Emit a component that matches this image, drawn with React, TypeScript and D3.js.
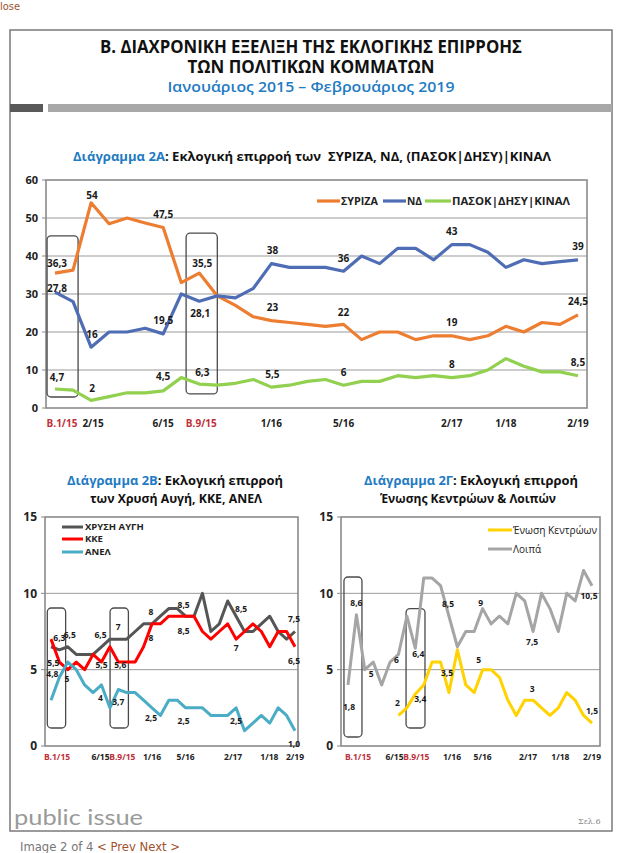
import React from "react";
import * as d3 from "d3";

// ---------- data ----------
const xTickLabels = ["Β.1/15", "", "2/15", "", "", "", "6/15", "", "Β.9/15", "", "", "", "1/16", "", "", "", "5/16", "", "", "", "", "", "2/17", "", "", "1/18", "", "", "", "2/19"];
const xTickLabelsSmall = ["Β.1/15", "", "", "", "", "", "6/15", "", "Β.9/15", "", "", "", "1/16", "", "", "", "5/16", "", "", "", "", "", "2/17", "", "", "1/18", "", "", "", "2/19"];
const electionTicks = ["Β.1/15", "Β.9/15"];

const syriza = [35.5, 36.3, 54, 48.5, 50, 48.7, 47.5, 33, 35.5, 29.5, 27, 24, 23, 22.5, 22, 21.5, 22, 18, 20, 20, 18, 19, 19, 18, 19, 21.5, 20, 22.5, 22, 24.5];
const nd = [30.5, 28, 16, 20, 20, 21, 19.5, 30, 28.1, 29.5, 29, 31.5, 38, 37, 37, 37, 36, 40, 38, 42, 42, 39, 43, 43, 41, 37, 39, 38, 38.5, 39];
const pasok = [5, 4.7, 2, 3, 4, 4, 4.5, 8, 6.3, 6, 6.5, 7.5, 5.5, 6, 7, 7.5, 6, 7, 7, 8.5, 8, 8.5, 8, 8.5, 10, 13, 11, 9.5, 9.5, 8.5];

const chrysiAvgi = [6.5, 6.3, 6.5, 6, 6, 6, 6.5, 7, 7, 7, 7.5, 8, 8, 8.5, 9, 9, 8.5, 8.5, 10, 7.5, 8, 9.5, 8.5, 7.5, 7.5, 8, 8.5, 7.5, 7, 7.5];
const kke = [7, 5.5, 5, 5.5, 5, 6, 5.5, 6.5, 5.5, 5.5, 5.5, 6.5, 8, 8, 8.5, 8.5, 8.5, 8.5, 7.5, 7, 7.5, 8, 7, 7.5, 8, 7.5, 6.5, 7.5, 7.5, 6.5];
const anel = [3, 4.5, 5.5, 5, 4, 3.5, 4, 2.5, 3.7, 3.5, 3.5, 3, 2.5, 2, 3, 3, 2.5, 2.5, 2.5, 2, 2, 2, 2.5, 1, 1.5, 2, 1.5, 2.5, 2, 1];

const enosiKentroon: (number | null)[] = [null, null, null, null, null, null, 2, 2.5, 3.4, 4, 5.5, 5.5, 3.5, 6.3, 4, 3.5, 5, 5, 4.5, 3, 2, 3, 3, 2.5, 2, 2.5, 3.5, 3, 2, 1.5];
const loipa = [4, 8.6, 5, 5.5, 4, 5.5, 6, 8.5, 6.4, 11, 11, 10.5, 8.5, 6.5, 7.5, 7.5, 9, 8, 8.5, 8, 10, 9.5, 7.5, 10, 9, 7.5, 10, 9.5, 11.5, 10.5];

const ticks2A = [0, 10, 20, 30, 40, 50, 60];
const ticksSmall = [0, 5, 10, 15];

// data labels: [series, index, text]
const labels2A: [string, number, string][] = [
  ["syriza", 0, "36,3"], ["syriza", 2, "54"], ["syriza", 6, "47,5"], ["syriza", 8, "35,5"], ["syriza", 12, "23"], ["syriza", 16, "22"], ["syriza", 22, "19"], ["syriza", 29, "24,5"],
  ["nd", 0, "27,8"], ["nd", 2, "16"], ["nd", 6, "19,5"], ["nd", 8, "28,1"], ["nd", 12, "38"], ["nd", 16, "36"], ["nd", 22, "43"], ["nd", 29, "39"],
  ["pasok", 0, "4,7"], ["pasok", 2, "2"], ["pasok", 6, "4,5"], ["pasok", 8, "6,3"], ["pasok", 12, "5,5"], ["pasok", 16, "6"], ["pasok", 22, "8"], ["pasok", 29, "8,5"],
];
const labels2B: [string, number, string][] = [
  ["xa", 1, "6,3"], ["xa", 2, "6,5"], ["xa", 6, "6,5"], ["xa", 8, "7"], ["xa", 12, "8"], ["xa", 16, "8,5"], ["xa", 22, "8,5"], ["xa", 29, "7,5"],
  ["kke", 1, "5,5"], ["kke", 2, "5"], ["kke", 6, "5,5"], ["kke", 8, "5,6"], ["kke", 12, "8"], ["kke", 16, "8,5"], ["kke", 22, "7"], ["kke", 29, "6,5"],
  ["anel", 1, "4,8"], ["anel", 6, "4"], ["anel", 8, "3,7"], ["anel", 12, "2,5"], ["anel", 16, "2,5"], ["anel", 22, "2,5"], ["anel", 29, "1,0"],
];
const labels2G: [string, number, string][] = [
  ["loipa", 1, "8,6"], ["loipa", 3, "5"], ["loipa", 6, "6"], ["loipa", 8, "6,4"], ["loipa", 12, "8,5"], ["loipa", 16, "9"], ["loipa", 22, "7,5"], ["loipa", 29, "10,5"],
  ["ek", 0, "1,8"], ["ek", 6, "2"], ["ek", 8, "3,4"], ["ek", 12, "3,5"], ["ek", 16, "5"], ["ek", 22, "3"], ["ek", 29, "1,5"],
];

// ---------- styling (offsets of labels, in px) ----------
const offsets2A: [number, number][] = [
  [2, -10], [1, -7], [0, -13], [3, -10], [1, -13], [0, -12], [0, -13], [0, -13],
  [2, -4], [1, -13], [0, -13], [1, 12], [1, -13], [0, -13], [0, -13], [0, -13],
  [2, -12], [1, -12], [0, -14], [3, -12], [1, -13], [0, -13], [0, -13], [0, -13],
];
const offsets2B: [number, number][] = [
  [0, -12], [2, -12], [-1, -12], [0, -12], [-1, -12], [-2, -11], [5, -7], [-1, -12],
  [-6, 1], [-1, 9], [0, 3], [2, 3], [-1, 14], [-2, 15], [0, 9], [-1, 14],
  [-7, -3], [-1, 13], [0, 13], [-1, 10], [-2, 13], [0, 13], [-1, 13],
];
const offsets2G: [number, number][] = [
  [0, -12], [-2, 12], [-2, 6], [3, 6], [-1, -12], [-2, -6], [-1, 11], [-3, 10],
  [1, -11], [-1, -12], [5, 5], [-2, -20], [-4, -10], [-1, -11], [0, -12],
];

const FONT = "'Open Sans', 'DejaVu Sans', sans-serif";
const BLUE_T = "#1f7bc2";
const RED_T = "#c0303a";

type Series = { key: string; values: (number | null)[]; color: string; width: number };

function PlotFrame(props: {
  x0: number; x1: number; y0: number; y1: number;
  yScale: d3.ScaleLinear<number, number>; ticks: number[]; grid: number[]; tickSize: number;
}) {
  const { x0, x1, y0, y1, yScale, ticks, grid, tickSize } = props;
  return (
    <g>
      {grid.map((t) => (
        <line key={"g" + t} x1={x0} x2={x1} y1={yScale(t)} y2={yScale(t)} stroke="#9a9a9a" strokeWidth={1} />
      ))}
      <rect x={x0} y={y1} width={x1 - x0} height={y0 - y1} fill="none" stroke="#8a8a8a" strokeWidth={1.6} />
      {ticks.map((t) => (
        <g key={"t" + t}>
          <line x1={x0 - 4} x2={x0} y1={yScale(t)} y2={yScale(t)} stroke="#8a8a8a" strokeWidth={1} />
          <text x={x0 - 8} y={yScale(t)} dy="0.35em" textAnchor="end" fontSize={tickSize} fontWeight="bold" fill="#222">
            {t}
          </text>
        </g>
      ))}
    </g>
  );
}

function Lines(props: { series: Series[]; x: (i: number) => number; y: d3.ScaleLinear<number, number> }) {
  const { series, x, y } = props;
  return (
    <g>
      {series.map((s) => {
        const gen = d3
          .line<number | null>()
          .defined((d) => d != null)
          .x((_, i) => x(i))
          .y((d) => y(d as number))
          .curve(d3.curveLinear);
        return (
          <path key={s.key} d={gen(s.values) || ""} fill="none" stroke={s.color} strokeWidth={s.width} strokeLinejoin="round" strokeLinecap="butt" />
        );
      })}
    </g>
  );
}

function DataLabels(props: {
  labels: [string, number, string][]; offsets: [number, number][]; series: Series[];
  x: (i: number) => number; y: d3.ScaleLinear<number, number>; size: number;
}) {
  const { labels, offsets, series, x, y, size } = props;
  const byKey: Record<string, Series> = {};
  series.forEach((s) => (byKey[s.key] = s));
  return (
    <g>
      {labels.map(([k, i, t], n) => {
        const v = byKey[k].values[i];
        const val = v == null ? parseFloat(t.replace(",", ".")) : v;
        const [dx, dy] = offsets[n];
        return (
          <text key={n} x={x(i) + dx} y={y(val) + dy} dy="0.35em" textAnchor="middle" fontSize={size} fontWeight="bold" fill="#1a1a1a">
            {t}
          </text>
        );
      })}
    </g>
  );
}

function XLabels(props: { labels: string[]; x: (i: number) => number; y: number; size: number; shift: number[] }) {
  const { labels, x, y, size, shift } = props;
  return (
    <g>
      {labels.map((t, i) =>
        t ? (
          <text key={i} x={x(i) + (shift[i] || 0)} y={y} textAnchor="middle" fontSize={size} fontWeight="bold" fill={electionTicks.includes(t) ? RED_T : "#222"}>
            {t}
          </text>
        ) : null
      )}
    </g>
  );
}

function Box(props: { x: (i: number) => number; y: d3.ScaleLinear<number, number>; i0: number; i1: number; v0: number; v1: number }) {
  const { x, y, i0, i1, v0, v1 } = props;
  return (
    <rect x={x(i0)} y={y(v1)} width={x(i1) - x(i0)} height={y(v0) - y(v1)} rx={4} fill="none" stroke="#4a4a4a" strokeWidth={1.3} />
  );
}

export default function App() {
  const idx = d3.range(xTickLabels.length);
  const n = idx.length - 1;

  // Chart 2A
  const xA = d3.scaleLinear().domain([0, n]).range([55, 578]);
  const yA = d3.scaleLinear().domain([0, 60]).range([408, 180]);
  const seriesA: Series[] = [
    { key: "syriza", values: syriza, color: "#ed7d31", width: 3.2 },
    { key: "nd", values: nd, color: "#4f6db4", width: 3.2 },
    { key: "pasok", values: pasok, color: "#92d050", width: 3.2 },
  ];

  // Chart 2B
  const xB = d3.scaleLinear().domain([0, n]).range([51, 295]);
  const yB = d3.scaleLinear().domain([0, 15]).range([746, 517]);
  const seriesB: Series[] = [
    { key: "xa", values: chrysiAvgi, color: "#555555", width: 3 },
    { key: "kke", values: kke, color: "#ff0000", width: 3 },
    { key: "anel", values: anel, color: "#4bacc6", width: 3 },
  ];

  // Chart 2Γ
  const xG = d3.scaleLinear().domain([0, n]).range([348, 592]);
  const yG = d3.scaleLinear().domain([0, 15]).range([746, 517]);
  const seriesG: Series[] = [
    { key: "ek", values: enosiKentroon, color: "#ffd200", width: 3 },
    { key: "loipa", values: loipa, color: "#a5a5a5", width: 3 },
  ];

  return (
    <svg width={627} height={853} viewBox="0 0 627 853" style={{ position: "absolute", left: 0, top: 0, background: "#fff" }} fontFamily={FONT}>
      <rect x={0} y={0} width={627} height={853} fill="#fff" />
      <text x={0} y={10} fontSize={11} fill="#a0522d" fontFamily="'DejaVu Sans Condensed', sans-serif">lose</text>

      {/* page frame */}
      <rect x={10} y={30} width={602} height={801} fill="#fff" stroke="#7a7a7a" strokeWidth={1.5} />
      <rect x={10} y={104} width={33} height={8} fill="#595959" />
      <rect x={48} y={104} width={564} height={8} fill="#a8a8a8" />

      {/* headings */}
      <text x={311} y={53} textAnchor="middle" fontSize={17} fontWeight="bold" fill="#111" textLength={422} lengthAdjust="spacingAndGlyphs">
        Β. ΔΙΑΧΡΟΝΙΚΗ ΕΞΕΛΙΞΗ ΤΗΣ ΕΚΛΟΓΙΚΗΣ ΕΠΙΡΡΟΗΣ
      </text>
      <text x={311} y={73} textAnchor="middle" fontSize={17} fontWeight="bold" fill="#111" textLength={247} lengthAdjust="spacingAndGlyphs">
        ΤΩΝ ΠΟΛΙΤΙΚΩΝ ΚΟΜΜΑΤΩΝ
      </text>
      <text x={311} y={92} textAnchor="middle" fontSize={15} fontWeight="600" fill={BLUE_T} textLength={287} lengthAdjust="spacingAndGlyphs">
        Ιανουάριος 2015 – Φεβρουάριος 2019
      </text>

      {/* Chart 2A */}
      <text x={73} y={161} fontSize={12.5} fontWeight="bold" fill="#111" textLength={478} lengthAdjust="spacingAndGlyphs" style={{ whiteSpace: "pre" }}>
        <tspan fill={BLUE_T}>Διάγραμμα 2Α</tspan>
        <tspan>: Εκλογική επιρροή των  ΣΥΡΙΖΑ, ΝΔ, (ΠΑΣΟΚ|ΔΗΣΥ)|ΚΙΝΑΛ</tspan>
      </text>
      <PlotFrame x0={46} x1={587} y0={408} y1={180} yScale={yA} ticks={ticks2A} grid={[10, 20, 30, 40, 50]} tickSize={11} />
      <Box x={xA} y={yA} i0={-0.44} i1={1.28} v0={2.9} v1={45.3} />
      <Box x={xA} y={yA} i0={7.27} i1={9.0} v0={3.7} v1={46} />
      <Lines series={seriesA} x={xA} y={yA} />
      <DataLabels labels={labels2A} offsets={offsets2A} series={seriesA} x={xA} y={yA} size={10} />
      <XLabels labels={xTickLabels} x={xA} y={427} size={10} shift={[7, 0, 2, 0, 0, 0, 0, 0, 2]} />
      {/* legend 2A */}
      <g fontSize={10} fontWeight="bold" fill="#222">
        <line x1={317} x2={340} y1={201} y2={201} stroke="#ed7d31" strokeWidth={3.2} />
        <text x={341} y={201} dy="0.35em" textLength={37} lengthAdjust="spacingAndGlyphs">ΣΥΡΙΖΑ</text>
        <line x1={383} x2={406} y1={201} y2={201} stroke="#4f6db4" strokeWidth={3.2} />
        <text x={407} y={201} dy="0.35em" textLength={15} lengthAdjust="spacingAndGlyphs">ΝΔ</text>
        <line x1={425} x2={451} y1={201} y2={201} stroke="#92d050" strokeWidth={3.2} />
        <text x={452} y={201} dy="0.35em" textLength={118} lengthAdjust="spacingAndGlyphs">ΠΑΣΟΚ|ΔΗΣΥ|ΚΙΝΑΛ</text>
      </g>

      {/* Chart 2B */}
      <text x={175} y={485} textAnchor="middle" fontSize={13} fontWeight="bold" fill="#111" textLength={216} lengthAdjust="spacingAndGlyphs">
        <tspan fill={BLUE_T}>Διάγραμμα 2Β</tspan>
        <tspan>: Εκλογική επιρροή</tspan>
      </text>
      <text x={176} y={503} textAnchor="middle" fontSize={13} fontWeight="bold" fill="#111" textLength={172} lengthAdjust="spacingAndGlyphs">
        των Χρυσή Αυγή, ΚΚΕ, ΑΝΕΛ
      </text>
      <PlotFrame x0={45} x1={298} y0={746} y1={517} yScale={yB} ticks={ticksSmall} grid={[5, 10]} tickSize={12} />
      <Box x={xB} y={yB} i0={-0.44} i1={1.74} v0={1.18} v1={9.04} />
      <Box x={xB} y={yB} i0={7.02} i1={9.2} v0={1.18} v1={9.04} />
      <Lines series={seriesB} x={xB} y={yB} />
      <DataLabels labels={labels2B} offsets={offsets2B} series={seriesB} x={xB} y={yB} size={8.5} />
      <XLabels labels={xTickLabelsSmall} x={xB} y={760} size={8.5} shift={[6, 0, 0, 0, 0, 0, -1, 0, 4, 0, 0, 0, 0, 0, 0, 0, 0, 0, 0, 0, 0, 0, -3, 0, 0, 8, 0, 0, 0, 0]} />
      <g fontSize={9.5} fontWeight="bold" fill="#222">
        <line x1={62} x2={83} y1={527} y2={527} stroke="#555555" strokeWidth={3} />
        <text x={85} y={527} dy="0.35em">ΧΡΥΣΗ ΑΥΓΗ</text>
        <line x1={62} x2={83} y1={539} y2={539} stroke="#ff0000" strokeWidth={3} />
        <text x={85} y={539} dy="0.35em">ΚΚΕ</text>
        <line x1={62} x2={83} y1={552} y2={552} stroke="#4bacc6" strokeWidth={3} />
        <text x={85} y={552} dy="0.35em">ΑΝΕΛ</text>
      </g>

      {/* Chart 2Γ */}
      <text x={471} y={485} textAnchor="middle" fontSize={13} fontWeight="bold" fill="#111" textLength={214} lengthAdjust="spacingAndGlyphs">
        <tspan fill={BLUE_T}>Διάγραμμα 2Γ</tspan>
        <tspan>: Εκλογική επιρροή</tspan>
      </text>
      <text x={468} y={503} textAnchor="middle" fontSize={13} fontWeight="bold" fill="#111" textLength={176} lengthAdjust="spacingAndGlyphs">
        Ένωσης Κεντρώων &amp; Λοιπών
      </text>
      <PlotFrame x0={341} x1={600} y0={746} y1={517} yScale={yG} ticks={ticksSmall} grid={[5, 10]} tickSize={12} />
      <Box x={xG} y={yG} i0={-0.48} i1={1.66} v0={0.59} v1={11.07} />
      <Box x={xG} y={yG} i0={6.9} i1={9.15} v0={1.18} v1={9.0} />
      <Lines series={seriesG} x={xG} y={yG} />
      <DataLabels labels={labels2G} offsets={offsets2G} series={seriesG} x={xG} y={yG} size={8.5} />
      <XLabels labels={xTickLabelsSmall} x={xG} y={760} size={8.5} shift={[10, 0, 0, 0, 0, 0, -4, 0, 1, 0, 0, 0, 3, 0, 0, 0, 0, 0, 0, 0, 0, 0, -5, 0, 0, 2, 0, 0, 0, 0]} />
      <g fontSize={10} fill="#222">
        <line x1={488} x2={512} y1={530} y2={530} stroke="#ffd200" strokeWidth={3} />
        <text x={513} y={530} dy="0.35em" textLength={84} lengthAdjust="spacingAndGlyphs">Ένωση Κεντρώων</text>
        <line x1={488} x2={512} y1={549} y2={549} stroke="#a5a5a5" strokeWidth={3} />
        <text x={513} y={549} dy="0.35em">Λοιπά</text>
      </g>

      {/* footer */}
      <text x={14} y={825} fontSize={21} fill="#9a9a9a" fontFamily="'Lato', sans-serif" textLength={129} lengthAdjust="spacingAndGlyphs">
        public issue
      </text>
      <text x={578} y={824} fontSize={8} fill="#888" fontFamily="'DejaVu Serif', serif">Σελ.6</text>
      <text x={20} y={851} fontSize={12} fill="#777" fontFamily="'DejaVu Sans Condensed', 'DejaVu Sans', sans-serif" textLength={160} lengthAdjust="spacingAndGlyphs">
        Image 2 of 4 <tspan fill="#a0522d"> &lt; Prev</tspan><tspan fill="#a0522d">  Next &gt;</tspan>
      </text>
    </svg>
  );
}
